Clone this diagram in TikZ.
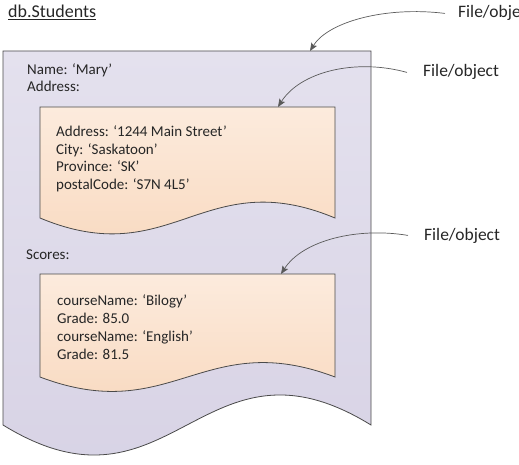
\documentclass[tikz,border=0pt]{standalone}
\usepackage{fontspec}
\setmainfont{Carlito}
\usetikzlibrary{arrows.meta}
\definecolor{texto}{HTML}{262626}
\definecolor{borda}{HTML}{4A4A4A}
\definecolor{cinza}{HTML}{5A5A5A}
\definecolor{lilasA}{HTML}{E4E1EE}
\definecolor{lilasB}{HTML}{D6D1E4}
\definecolor{pessegoA}{HTML}{FCEBDD}
\definecolor{pessegoB}{HTML}{F8D7BC}

\begin{document}
\begin{tikzpicture}[x=1pt,y=-1pt, txt/.style={font=\fontsize{15}{18}\selectfont, anchor=base west, inner sep=0pt, text=texto},
  lbl/.style={font=\fontsize{17.5}{20}\selectfont, anchor=base west, inner sep=0pt, text=texto},
  caixa/.style={draw=borda, line width=0.8pt},
  seta/.style={-{Stealth[length=8pt,width=6.5pt,inset=1.5pt]}, draw=cinza, line width=0.7pt}]
  \useasboundingbox (0,0) rectangle (519,465);
  \clip (0,0) rectangle (519,465);
  % documentos
  \draw[caixa, top color=lilasA, bottom color=lilasB] (3,51) -- (371,51) -- (371,425) .. controls (202,321) and (172,529) .. (3,425) -- cycle;
  \draw[caixa, top color=pessegoA, bottom color=pessegoB] (40,107) -- (335,107) -- (335,218) .. controls (203,163) and (172,273) .. (40,218) -- cycle;
  \draw[caixa, top color=pessegoA, bottom color=pessegoB] (40,274) -- (335,274) -- (335,377) .. controls (203,327) and (172,427) .. (40,377) -- cycle;
  \coordinate (tipDoc) at (310,51); \coordinate (tipAddr) at (278,107); \coordinate (tipScores) at (281,274);
  % textos
  \node[txt, font=\fontsize{18}{21}\selectfont] (titulo) at (8,18) {\underline{db.Students}};
  \node[txt] (nome) at (27,75) {Name: ‘Mary’};
  \node[txt] (endereco) at (27,92) {Address:};
  \node[txt] (notas) at (26,259) {Scores:};
  \foreach \t [count=\i] in {{Address: ‘1244 Main Street’},{City: ‘Saskatoon’},{Province: ‘SK’},{postalCode: ‘S7N 4L5’}}
    \node[txt] (addr\i) at (56,137+17.5*\i-17.5) {\t};
  \foreach \t [count=\i] in {{courseName: ‘Bilogy’},{Grade: 85.0},{courseName: ‘English’},{Grade: 81.5}}
    \node[txt] (curso\i) at (57,305+18*\i-18) {\t};
  % rotulos e setas
  \node[lbl] (lblDoc) at (458,18) {File/object};
  \node[lbl] (lblAddr) at (423,77) {File/object};
  \node[lbl] (lblScores) at (424,240) {File/object};
  \draw[seta] ([xshift=-13pt]lblDoc.west) .. controls (385,6) and (328,22) .. (tipDoc);
  \draw[seta] ([xshift=-16pt]lblAddr.west) .. controls (355,58) and (300,72) .. (tipAddr);
  \draw[seta] ([xshift=-16pt]lblScores.west) .. controls (358,227) and (303,240) .. (tipScores);
\end{tikzpicture}
\end{document}
